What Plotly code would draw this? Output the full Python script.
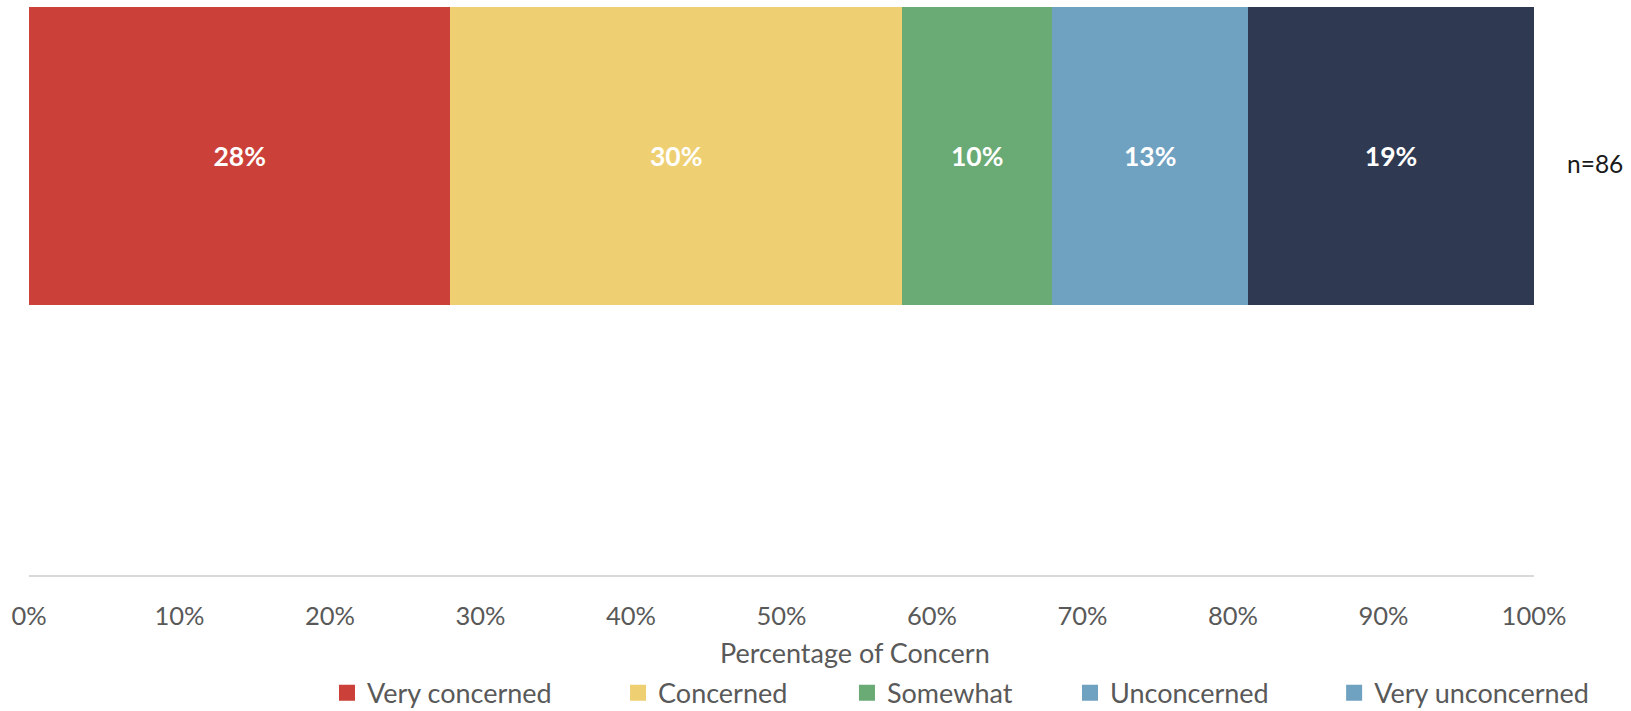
import plotly.graph_objects as go

# Share of respondents by level of concern (n=86)
categories = ["Very concerned", "Concerned", "Somewhat", "Unconcerned", "Very unconcerned"]
shares = [28, 30, 10, 13, 19]
bar_colors = ["#cb4039", "#eecf72", "#6aaa74", "#6fa1c1", "#2f3a52"]
legend_colors = ["#cb4039", "#eecf72", "#6aaa74", "#6fa1c1", "#6fa1c1"]
tick_values = [0, 10, 20, 30, 40, 50, 60, 70, 80, 90, 100]
tick_labels = [f"{v}%" for v in tick_values]
sample_note = "n=86"
axis_title = "Percentage of Concern"

FONT = "Lato, 'Open Sans', sans-serif"
GREY = "#595959"

# horizontal placement of each legend entry (paper coordinates)
legend_x = [0.1980, 0.3914, 0.5435, 0.6917, 0.8672]
legend_names = ["legend", "legend2", "legend3", "legend4", "legend5"]

fig = go.Figure()
for name, val, bc in zip(categories, shares, bar_colors):
    fig.add_trace(go.Bar(
        x=[val], y=[0], orientation="h", width=1,
        marker=dict(color=bc, line=dict(width=0)),
        text=[f"{val}%"], textposition="inside", insidetextanchor="middle",
        textfont=dict(color="white", size=26.5, family=FONT, weight="bold"),
        name=name, showlegend=False, hoverinfo="x+name",
    ))

# legend keys: square swatches, one legend box per category
for name, lc, lg in zip(categories, legend_colors, legend_names):
    fig.add_trace(go.Scatter(
        x=[None], y=[None], mode="markers", name=name, legend=lg,
        marker=dict(symbol="square", size=16, color=lc), showlegend=True,
    ))

legend_common = dict(orientation="h", xanchor="left", y=-0.208, yanchor="middle",
                     font=dict(size=27, color=GREY, family=FONT),
                     bgcolor="rgba(0,0,0,0)", itemclick=False, itemdoubleclick=False)
legend_layout = {lg: dict(x=lx, **legend_common) for lg, lx in zip(legend_names, legend_x)}

fig.update_layout(
    width=1631, height=711,
    margin=dict(l=29, r=97, t=7, b=136, autoexpand=False),
    barmode="stack",
    plot_bgcolor="white", paper_bgcolor="white",
    font=dict(family=FONT, color=GREY, size=25),
    showlegend=True,
    xaxis=dict(range=[0, 100], tickvals=tick_values, ticktext=tick_labels,
               showgrid=False, zeroline=False, showline=True,
               linecolor="#d9d9d9", linewidth=2, ticks="",
               ticklabelstandoff=17, tickfont=dict(size=25.5, color=GREY)),
    yaxis=dict(range=[-1.406, 0.5], showticklabels=False, showgrid=False,
               zeroline=False, showline=False, fixedrange=True),
    annotations=[
        dict(text=axis_title, xref="paper", yref="paper", x=0.549, y=-0.1356,
             xanchor="center", yanchor="middle", showarrow=False,
             font=dict(size=27, color=GREY)),
        dict(text=sample_note, xref="paper", yref="paper", x=1.0405, y=0.725,
             xanchor="center", yanchor="middle", showarrow=False,
             font=dict(size=24.5, color="#1a1a1a")),
    ],
    **legend_layout,
)

fig.write_html("out.html")
